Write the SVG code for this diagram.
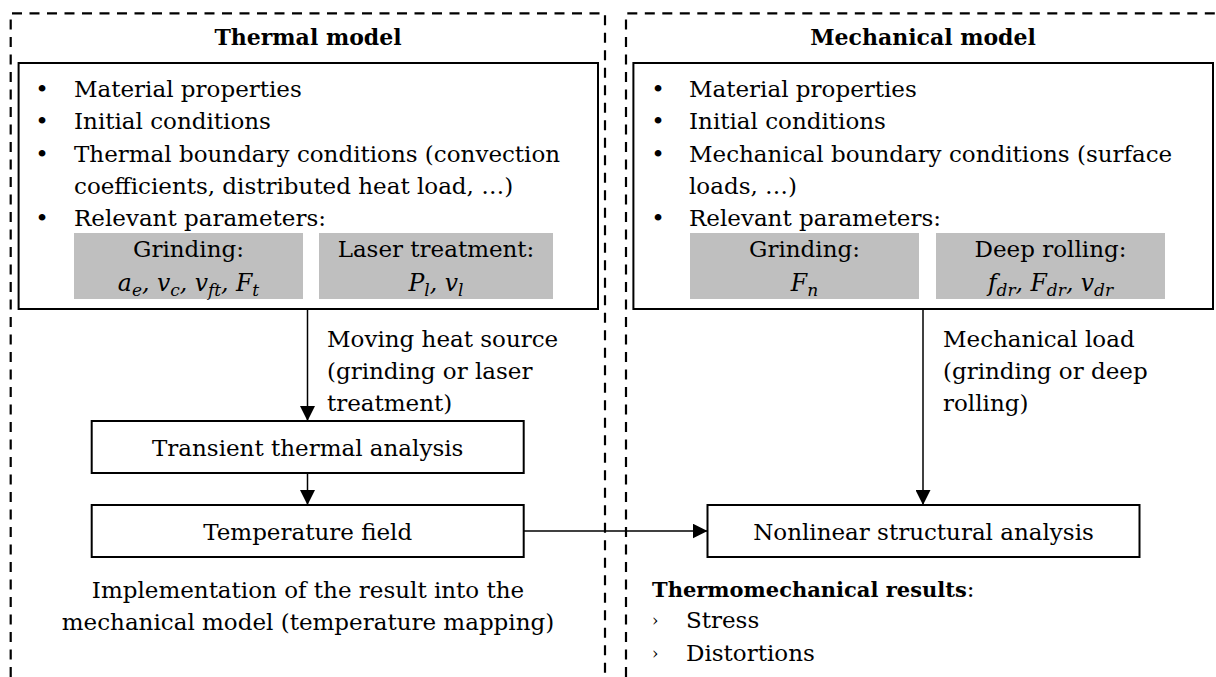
<svg xmlns="http://www.w3.org/2000/svg" width="1216" height="677" viewBox="0 0 1216 677">
<style>
text { font-family: "DejaVu Serif", "Liberation Serif", serif; font-size: 23px; fill: #000; }
.title { font-weight: bold; font-size: 22px; text-anchor: middle; }
.c { text-anchor: middle; }
.b { text-anchor: middle; }
.dash { fill: none; stroke: #000; stroke-width: 2.2; stroke-dasharray: 10 7.5; }
.box { fill: #fff; stroke: #000; stroke-width: 2; }
.gray { fill: #bfbfbf; stroke: none; }
.math { font-style: italic; text-anchor: middle; font-size: 23.5px; }
.sub { font-size: 17px; }
.conn { stroke: #000; stroke-width: 1.5; fill: none; }
.bold { font-weight: bold; font-size: 21px; }
.chev { font-size: 16px; }
</style>
<defs>
<marker id="arr" viewBox="0 0 10 10" refX="10" refY="5" markerUnits="userSpaceOnUse" markerWidth="15" markerHeight="15" orient="auto">
<path d="M0,0 L10,5 L0,10 z" fill="#000"/>
</marker>
</defs>

<g id="thermal-model">
<path class="dash" d="M10.7,677 V13.3 H605 V677"/>
<text class="title" x="308" y="45">Thermal model</text>
</g>

<g id="mechanical-model">
<path class="dash" d="M626,677 V13.3 H1220"/>
<text class="title" x="923" y="45">Mechanical model</text>
</g>

<g id="thermal-inputs">
<rect class="box" x="18.6" y="63" width="579.4" height="246"/>
<text class="b" x="42" y="97">•</text>
<text x="74" y="97">Material properties</text>
<text class="b" x="42" y="129.25">•</text>
<text x="74" y="129.25">Initial conditions</text>
<text class="b" x="42" y="161.5">•</text>
<text x="74" y="161.5">Thermal boundary conditions (convection</text>
<text x="74" y="193.75">coefficients, distributed heat load, …)</text>
<text class="b" x="42" y="226">•</text>
<text x="74" y="226">Relevant parameters:</text>
<rect class="gray" x="74" y="233" width="229" height="66"/>
<rect class="gray" x="319" y="233" width="234" height="66"/>
<text class="c" x="188.5" y="257">Grinding:</text>
<text class="math" x="188.5" y="291">a<tspan class="sub" dy="5">e</tspan><tspan dy="-5">, v</tspan><tspan class="sub" dy="5">c</tspan><tspan dy="-5">, v</tspan><tspan class="sub" dy="5">ft</tspan><tspan dy="-5">, F</tspan><tspan class="sub" dy="5">t</tspan></text>
<text class="c" x="436" y="257">Laser treatment:</text>
<text class="math" x="436" y="291">P<tspan class="sub" dy="5">l</tspan><tspan dy="-5">, v</tspan><tspan class="sub" dy="5">l</tspan></text>
</g>

<g id="mechanical-inputs">
<rect class="box" x="633.4" y="63" width="579.6" height="246"/>
<text class="b" x="658" y="97">•</text>
<text x="689" y="97">Material properties</text>
<text class="b" x="658" y="129.25">•</text>
<text x="689" y="129.25">Initial conditions</text>
<text class="b" x="658" y="161.5">•</text>
<text x="689" y="161.5">Mechanical boundary conditions (surface</text>
<text x="689" y="193.75">loads, …)</text>
<text class="b" x="658" y="226">•</text>
<text x="689" y="226">Relevant parameters:</text>
<rect class="gray" x="690" y="233" width="229" height="66"/>
<rect class="gray" x="936" y="233" width="229" height="66"/>
<text class="c" x="804.5" y="257">Grinding:</text>
<text class="math" x="804.5" y="291">F<tspan class="sub" dy="5">n</tspan></text>
<text class="c" x="1050.5" y="257">Deep rolling:</text>
<text class="math" x="1050.5" y="291">f<tspan class="sub" dy="5">dr</tspan><tspan dy="-5">, F</tspan><tspan class="sub" dy="5">dr</tspan><tspan dy="-5">, v</tspan><tspan class="sub" dy="5">dr</tspan></text>
</g>

<g id="transient-thermal-analysis">
<rect class="box" x="91.7" y="421" width="432" height="52"/>
<text class="c" x="307.7" y="456">Transient thermal analysis</text>
</g>

<g id="temperature-field">
<rect class="box" x="91.7" y="505" width="432" height="52"/>
<text class="c" x="307.7" y="540">Temperature field</text>
</g>

<g id="nonlinear-structural-analysis">
<rect class="box" x="707.5" y="505" width="432" height="52"/>
<text class="c" x="923.5" y="540">Nonlinear structural analysis</text>
</g>

<g id="connectors">
<path class="conn" d="M307.5,309 V421" marker-end="url(#arr)"/>
<path class="conn" d="M307.5,473 V505" marker-end="url(#arr)"/>
<path class="conn" d="M523.7,531 H707.5" marker-end="url(#arr)"/>
<path class="conn" d="M923,309 V505" marker-end="url(#arr)"/>
</g>

<g id="labels">
<text x="327" y="347">Moving heat source</text>
<text x="327" y="379">(grinding or laser</text>
<text x="327" y="411">treatment)</text>
<text x="943" y="347">Mechanical load</text>
<text x="943" y="379">(grinding or deep</text>
<text x="943" y="411">rolling)</text>
<text class="c" x="308" y="598">Implementation of the result into the</text>
<text class="c" x="308" y="630">mechanical model (temperature mapping)</text>
<text x="652" y="597"><tspan class="bold">Thermomechanical results</tspan>:</text>
<text class="chev" x="652" y="626">›</text>
<text x="686" y="628">Stress</text>
<text class="chev" x="652" y="659">›</text>
<text x="686" y="661">Distortions</text>
</g>
</svg>
